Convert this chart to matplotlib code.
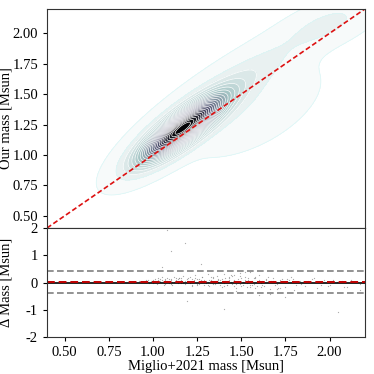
import numpy as np
import matplotlib.pyplot as plt

plt.rcParams['font.family'] = ['Liberation Serif', 'DejaVu Serif']
plt.rcParams['font.size'] = 10.5
plt.rcParams['axes.unicode_minus'] = False

# density summary (gaussian mixture)
mix_mx = [1.165, 1.45, 1.55, 2.00]
mix_my = [1.215, 1.58, 1.38, 2.08]
mix_sx = [0.15, 0.28, 0.22, 0.15]
mix_sy = [0.17, 0.28, 0.22, 0.12]
mix_rho = [0.83, 0.90, 0.55, 0.60]
mix_w = [0.76, 0.13, 0.07, 0.04]

# residual scatter (Miglio mass, our - Miglio)
res_x = [0.92, 0.95, 0.97, 0.98, 1.00, 1.01, 1.02, 1.03, 1.04, 1.05, 1.06, 1.07, 1.08, 1.09, 1.10,
         1.11, 1.12, 1.13, 1.14, 1.15, 1.16, 1.17, 1.18, 1.19, 1.20, 1.21, 1.22, 1.23, 1.24, 1.25,
         1.26, 1.27, 1.28, 1.29, 1.30, 1.31, 1.32, 1.33, 1.34, 1.35, 1.36, 1.37, 1.38, 1.39, 1.40,
         1.41, 1.42, 1.43, 1.44, 1.45, 1.46, 1.47, 1.48, 1.49, 1.50, 1.51, 1.52, 1.53, 1.54, 1.55,
         1.56, 1.57, 1.58, 1.59, 1.60, 1.62, 1.64, 1.66, 1.68, 1.70, 1.72, 1.75, 1.78, 1.80, 1.83,
         1.86, 1.90, 1.93, 1.97, 2.00, 2.04, 2.08, 2.12, 2.17, 2.19,
         0.99, 1.03, 1.06, 1.09, 1.12, 1.15, 1.18, 1.21, 1.24, 1.27, 1.30, 1.33, 1.36, 1.39, 1.42,
         1.45, 1.48, 1.51, 1.54, 1.57, 1.60, 1.63, 1.67, 1.71, 1.76, 1.81, 1.88, 1.95, 2.02, 2.10,
         1.02, 1.05, 1.08, 1.11, 1.14, 1.17, 1.20, 1.23, 1.26, 1.29, 1.32, 1.35, 1.38, 1.41, 1.44,
         1.47, 1.50, 1.53, 1.56, 1.59, 1.62, 1.65, 1.69, 1.73,
         0.96, 1.00, 1.04, 1.07, 1.10, 1.13, 1.16, 1.19, 1.22, 1.25, 1.28, 1.31, 1.34, 1.37, 1.40,
         1.43, 1.46, 1.49, 1.52, 1.55, 1.58, 1.61, 1.64, 1.68, 1.72, 1.77, 1.84, 1.91, 1.99, 2.07,
         1.01, 1.04, 1.07, 1.10, 1.13, 1.16, 1.19, 1.22, 1.25, 1.28, 1.31, 1.34, 1.37, 1.40, 1.43,
         1.46, 1.49, 1.52, 1.55, 1.58, 1.61, 1.65, 1.70, 1.79,
         1.08, 1.10, 1.18, 1.27, 1.05, 1.19, 1.40, 1.75, 2.05, 1.60, 1.66, 1.52, 1.47, 2.17]
res_dy = [0.05, 0.02, 0.10, -0.03, 0.08, 0.12, -0.05, 0.15, 0.03, 0.20, -0.08, 0.10, 0.18, 0.00, 0.14,
          -0.10, 0.22, 0.06, -0.02, 0.16, 0.09, 0.25, -0.06, 0.12, 0.04, 0.19, -0.12, 0.08, 0.28, -0.04,
          0.13, 0.02, 0.21, -0.09, 0.06, 0.30, -0.14, 0.11, 0.17, -0.07, 0.24, 0.01, 0.09, -0.16, 0.33,
          0.05, -0.11, 0.19, 0.27, -0.05, 0.08, -0.20, 0.14, 0.36, -0.13, 0.03, 0.22, -0.18, 0.10, 0.40,
          -0.08, 0.15, -0.22, 0.06, 0.26, -0.10, 0.12, -0.25, 0.18, -0.06, 0.09, -0.15, 0.20, -0.28, 0.05,
          -0.12, 0.14, -0.20, 0.08, -0.09, 0.03, -0.18, 0.10, -0.06, 0.02,
          0.07, 0.11, -0.01, 0.13, 0.03, 0.18, 0.07, -0.02, 0.15, 0.10, -0.03, 0.20, 0.04, 0.12, -0.08,
          0.23, 0.01, -0.10, 0.17, -0.04, 0.11, -0.14, 0.07, -0.19, 0.13, -0.08, 0.05, -0.11, 0.09, -0.15,
          0.02, 0.09, 0.06, 0.01, 0.12, 0.00, 0.16, 0.05, -0.07, 0.11, 0.08, 0.03, -0.11, 0.15, 0.02,
          -0.06, 0.18, -0.02, 0.07, -0.12, 0.04, 0.21, -0.09, 0.12,
          0.10, -0.02, 0.06, 0.13, -0.04, 0.09, 0.17, 0.02, -0.08, 0.14, 0.05, -0.11, 0.22, 0.08, -0.03,
          0.16, -0.14, 0.25, 0.01, -0.09, 0.19, -0.17, 0.10, 0.04, -0.21, 0.11, -0.07, 0.15, -0.12, 0.06,
          0.04, 0.13, -0.06, 0.08, 0.17, -0.01, 0.05, 0.12, -0.10, 0.20, 0.03, -0.05, 0.14, -0.13, 0.09,
          0.29, -0.07, 0.11, -0.16, 0.18, -0.03, 0.07, -0.24, 0.13,
          1.93, 1.15, 1.45, 0.68, 0.58, -0.68, -0.98, -0.55, -1.07, -0.47, -0.42, 0.40, -0.30, -0.26]

res_mean = 0.03
res_hi = 0.43
res_lo = -0.37

lims = (0.4, 2.2)

fig = plt.figure(figsize=(3.74, 3.74), dpi=100)
ax = fig.add_axes([0.1257, 0.3904, 0.850, 0.5856])
axr = fig.add_axes([0.1257, 0.0989, 0.850, 0.2915], sharex=ax)

gx, gy = np.meshgrid(np.linspace(lims[0], lims[1], 400), np.linspace(lims[0], lims[1], 400))
dens = np.zeros_like(gx)
for mx, my, sx, sy, r, w in zip(mix_mx, mix_my, mix_sx, mix_sy, mix_rho, mix_w):
    u = (gx - mx) / sx
    v = (gy - my) / sy
    q = (u**2 - 2 * r * u * v + v**2) / (1 - r**2)
    dens += w * np.exp(-0.5 * q) / (2 * np.pi * sx * sy * np.sqrt(1 - r**2))

top = dens.max()
levels = np.linspace(top * 0.006, top, 26)
ax.contourf(gx, gy, dens, levels=list(levels) + [top * 1.01], cmap='bone_r', vmin=0, vmax=top)
line_cols = ['#d8f6f6'] * 2 + ['white'] * (len(levels) - 2)
ax.contour(gx, gy, dens, levels=levels, colors=line_cols, linewidths=0.5)
ax.plot(lims, lims, color='#dd1111', ls='--', lw=1.2, dashes=(3, 1.6))

ax.set_xlim(lims)
ax.set_ylim(lims)
ax.set_yticks([0.5, 0.75, 1.0, 1.25, 1.5, 1.75, 2.0])
ax.set_ylabel('Our mass [Msun]')
ax.yaxis.set_label_coords(-0.11, 0.5)
ax.tick_params(axis='x', which='both', bottom=False, labelbottom=False)
ax.tick_params(axis='y', direction='out', length=3)

axr.scatter(res_x, res_dy, s=0.8, color='#888888', alpha=0.7, lw=0)
axr.axhline(0, color='black', lw=1.2)
axr.axhline(res_mean, color='#c00000', ls='--', lw=1.4, dashes=(4, 2))
axr.axhline(res_hi, color='grey', ls='--', lw=1.2, dashes=(4, 2))
axr.axhline(res_lo, color='grey', ls='--', lw=1.2, dashes=(4, 2))
axr.set_ylim(-2, 2)
axr.set_yticks([2, 1, 0, -1, -2])
axr.set_xticks([0.5, 0.75, 1.0, 1.25, 1.5, 1.75, 2.0])
axr.set_xticklabels(['0.50', '0.75', '1.00', '1.25', '1.50', '1.75', '2.00'])
axr.set_ylabel('Δ Mass [Msun]')
axr.yaxis.set_label_coords(-0.11, 0.5)
axr.set_xlabel('Miglio+2021 mass [Msun]', labelpad=1)
axr.tick_params(direction='out', length=3)

for a in (ax, axr):
    for s in a.spines.values():
        s.set_color('#333333')

fig.savefig('out.png', dpi=100)
